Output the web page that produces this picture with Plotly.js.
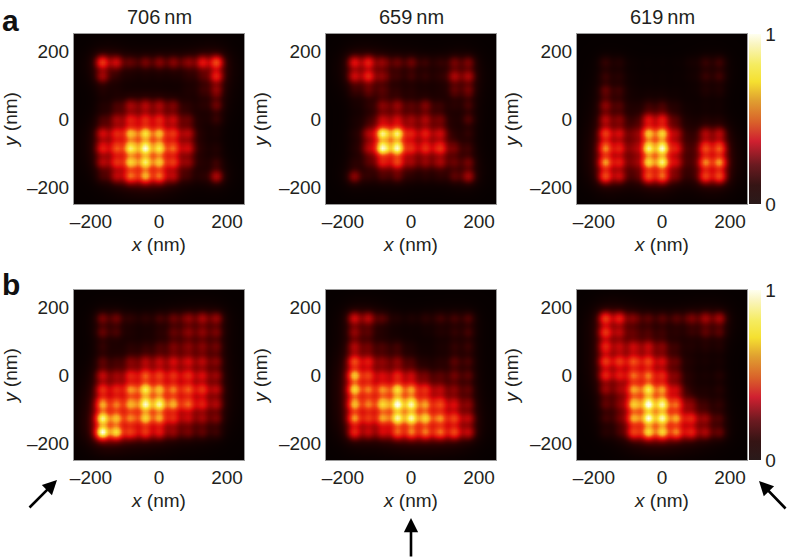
<!DOCTYPE html>
<html>
<head>
<meta charset="utf-8">
<script src="https://cdn.plot.ly/plotly-3.0.1.min.js"></script>
<style>html,body{margin:0;padding:0;background:#fff}</style>
</head>
<body>
<div id="chart" style="width:788px;height:558px"></div>
<script>
// Spot intensities. Rows run top (y=+168) to bottom (y=-168), columns left to right.
const spotCoords = [-168,-126,-84,-42,0,42,84,126,168];
const wavelengths = ['706\u2009nm','659\u2009nm','619\u2009nm'];
const xTickVals = [-200,0,200];
const xTickText = ['\u2013200','0','200'];

const a706 = [
[.62,.40,.17,.22,.25,.25,.25,.46,.68],
[.30,.05,.02,.02,.02,.02,.05,.10,.50],
[.04,.02,.00,.00,.00,.00,.03,.08,.26],
[.04,.10,.28,.30,.28,.20,.05,.05,.20],
[.10,.25,.40,.42,.42,.32,.15,.02,.10],
[.38,.42,.80,.90,.78,.48,.30,.02,.03],
[.45,.55,.98,1.1,.92,.60,.35,.03,.05],
[.30,.45,.85,.95,.80,.50,.22,.03,.10],
[.10,.30,.65,.80,.65,.30,.08,.05,.36]];
const a659 = [
[.45,.48,.25,.18,.20,.10,.08,.20,.22],
[.38,.50,.22,.08,.10,.08,.06,.32,.32],
[.08,.15,.12,.05,.04,.02,.02,.15,.20],
[.02,.05,.22,.25,.12,.22,.08,.05,.12],
[.02,.05,.28,.30,.22,.28,.18,.02,.15],
[.03,.25,1.1,1.05,.38,.42,.35,.03,.08],
[.03,.25,1.2,1.15,.42,.48,.55,.18,.10],
[.05,.10,.40,.55,.22,.22,.28,.15,.20],
[.28,.06,.10,.15,.04,.05,.06,.15,.32]];
const a619 = [
[.10,.06,.01,.01,.01,.01,.03,.10,.12],
[.10,.06,.01,.01,.01,.01,.02,.10,.12],
[.18,.10,.01,.01,.01,.01,.01,.05,.05],
[.25,.12,.02,.08,.10,.04,.01,.02,.02],
[.32,.20,.03,.40,.42,.10,.01,.03,.03],
[.58,.35,.12,.85,.90,.25,.02,.30,.32],
[.75,.42,.15,1.05,1.15,.38,.03,.60,.65],
[.80,.40,.12,.90,1.05,.30,.03,.72,.78],
[.65,.35,.05,.60,.66,.15,.03,.58,.62]];
const b706 = [
[.22,.20,.08,.08,.12,.18,.25,.30,.28],
[.18,.12,.03,.02,.05,.15,.22,.22,.20],
[.08,.02,.05,.06,.10,.18,.20,.20,.18],
[.15,.08,.20,.28,.30,.35,.35,.30,.22],
[.35,.22,.42,.58,.50,.45,.45,.35,.25],
[.50,.40,.68,.95,.75,.62,.58,.50,.32],
[.80,.60,.72,1.1,1.05,.75,.62,.42,.30],
[1.1,.75,.60,.85,.72,.42,.30,.25,.20],
[1.3,.95,.50,.50,.40,.22,.18,.15,.10]];
const b659 = [
[.42,.35,.15,.05,.05,.08,.12,.12,.15],
[.25,.12,.03,.01,.01,.02,.05,.08,.12],
[.30,.15,.10,.10,.03,.01,.03,.08,.10],
[.62,.40,.20,.22,.10,.03,.05,.15,.12],
[.90,.50,.30,.42,.30,.15,.12,.18,.15],
[.95,.60,.65,.90,.70,.45,.28,.20,.15],
[.85,.60,.85,1.15,1.05,.68,.55,.35,.22],
[.78,.45,.70,1.05,1.05,.85,.68,.55,.32],
[.50,.30,.32,.60,.65,.65,.65,.60,.35]];
const b619 = [
[.60,.48,.22,.15,.15,.15,.22,.30,.32],
[.55,.28,.12,.10,.08,.05,.08,.15,.15],
[.48,.28,.32,.32,.20,.08,.04,.05,.05],
[.55,.50,.58,.55,.35,.15,.03,.03,.03],
[.48,.38,.60,.62,.42,.18,.03,.03,.06],
[.25,.20,.72,.95,.68,.30,.02,.03,.06],
[.15,.15,.85,1.15,1.05,.60,.18,.08,.08],
[.10,.12,.75,1.1,1.05,.72,.45,.25,.12],
[.06,.08,.55,.92,.90,.68,.45,.30,.18]];

const panelData = [a706,a659,a619,b706,b659,b619];

const heatScale = [
[0,'#060000'],[.07,'#2a0000'],[.17,'#700000'],[.34,'#d80808'],
[.50,'#f04010'],[.65,'#f8a020'],[.80,'#fbe030'],[.93,'#fdf5a0'],[1,'#fffff0']];
const barScale = [
[0,'#2a1a1a'],[.11,'#351414'],[.23,'#6b1a20'],[.37,'#d02030'],
[.48,'#d9602a'],[.61,'#e0a030'],[.72,'#f5e030'],[.82,'#f5ec60'],[.94,'#faf5c0'],[1,'#fffff0']];

// Each read spot value is displayed as a blurred spot (the picture's point-spread look):
// the heatmap samples the spots on a finer mesh; no value is invented beyond the arrays above.
const spotSharp = {w:.58, s:14};
const spotHalo  = {w:.09, s:30};
const spotGlow  = {w:.006, s:62};
const meshStep = 6, meshEdge = 252;
const mesh = [];
for (let v=-meshEdge; v<=meshEdge; v+=meshStep) mesh.push(v);
function spotImage(rows){
  return mesh.map(y => mesh.map(x => {
    let t = 0;
    rows.forEach((row,i) => row.forEach((val,j) => {
      const d2 = (x-spotCoords[j])**2 + (y-spotCoords[spotCoords.length-1-i])**2;
      t += val*[spotSharp,spotHalo,spotGlow].reduce((a,g)=>a+g.w*Math.exp(-d2/(2*g.s*g.s)),0);
    }));
    return Math.min(t,1);
  }));
}

const W=788,H=558;
const lefts=[74,326,577], tops=[34,290], side=170;
const px=v=>v/W, py=v=>1-v/H;
const axisFont={family:'"Liberation Sans",Arial,sans-serif',size:19,color:'#231f20'};

const layout={
  width:W,height:H,paper_bgcolor:'#fff',plot_bgcolor:'#000',showlegend:false,
  margin:{l:0,r:0,t:0,b:0,pad:0,autoexpand:false},
  font:axisFont,annotations:[]
};
const traces=[];
panelData.forEach((rows,k)=>{
  const n=k+1, col=k%3, row=Math.floor(k/3);
  traces.push({
    type:'heatmap',x:mesh,y:mesh,z:spotImage(rows),xaxis:'x'+n,yaxis:'y'+n,
    zmin:0,zmax:1,zsmooth:'best',colorscale:heatScale,hoverinfo:'skip',showscale:false
  });
  if(col===2){
    // Colour key only: lies outside the axis range, it just carries the colour bar.
    traces.push({
      type:'heatmap',x:[1000,1001],y:[1000],z:[[0,1]],xaxis:'x'+n,yaxis:'y'+n,
      zmin:0,zmax:1,colorscale:barScale,hoverinfo:'skip',showscale:true,
      colorbar:{
        x:749/W,xanchor:'left',xpad:0,ypad:0,
        y:py(tops[row]+side),yanchor:'bottom',len:side,lenmode:'pixels',
        thickness:12,thicknessmode:'pixels',outlinewidth:0,
        tickvals:[0,1],ticktext:['0','1'],ticks:'inside',ticklen:12,tickcolor:'#333',tickwidth:1,
        tickfont:axisFont
      }
    });
  }
  const common={
    range:[-250,250],tickmode:'array',tickvals:xTickVals,ticktext:xTickText,ticks:'',
    showgrid:false,zeroline:false,showline:true,mirror:true,linecolor:'#9a9a9a',linewidth:1,
    tickfont:axisFont,automargin:false
  };
  layout['xaxis'+n]=Object.assign({},common,{
    anchor:'y'+n,domain:[px(lefts[col]),px(lefts[col]+side)],
    title:{text:'<i>x</i> (nm)',font:axisFont,standoff:6}
  });
  layout['yaxis'+n]=Object.assign({},common,{
    anchor:'x'+n,domain:[py(tops[row]+side),py(tops[row])],
    title:{text:'<i>y</i> (nm)',font:axisFont,standoff:6}
  });
});
wavelengths.forEach((t,c)=>layout.annotations.push({
  text:t,xref:'paper',yref:'paper',x:px(lefts[c]+side/2),y:py(17),xanchor:'center',yanchor:'middle',
  showarrow:false,font:Object.assign({},axisFont,{size:20})
}));
[['a',21],['b',284]].forEach(([t,yc])=>layout.annotations.push({
  text:'<b>'+t+'</b>',xref:'paper',yref:'paper',x:px(0),y:py(yc),xanchor:'left',yanchor:'middle',
  showarrow:false,font:{family:'"Liberation Sans",Arial,sans-serif',size:30,color:'#111'}
}));
[[28,509,57,480],[411,558,411,518],[787,510,759,481]].forEach(([x0,y0,x1,y1])=>layout.annotations.push({
  x:px(x1),y:py(y1),ax:px(x0),ay:py(y0),xref:'paper',yref:'paper',axref:'paper',ayref:'paper',
  text:'',showarrow:true,arrowhead:2,arrowsize:1.1,arrowwidth:2.6,arrowcolor:'#000'
}));

Plotly.newPlot('chart',traces,layout,{displayModeBar:false,staticPlot:true});
</script>
</body>
</html>
